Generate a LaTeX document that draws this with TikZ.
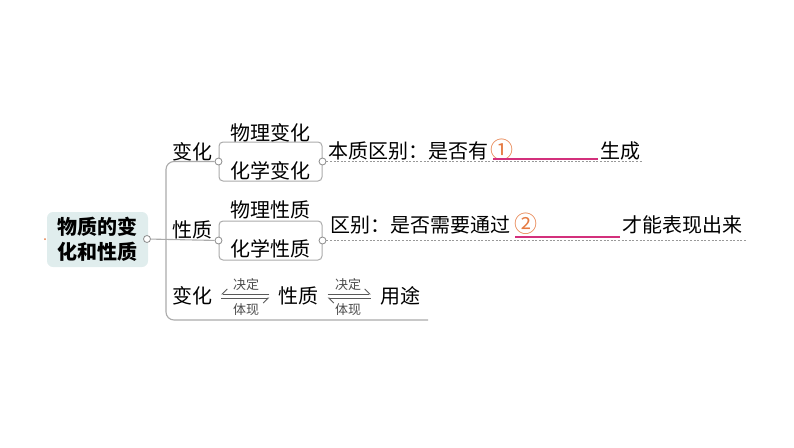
\documentclass[tikz,border=0pt]{standalone}
\usepackage{fontspec}
\setmainfont{Noto Sans CJK SC}
\usetikzlibrary{arrows.meta,positioning,calc}
\definecolor{linegray}{HTML}{ABABAB}
\definecolor{rootfill}{HTML}{E0EDED}
\definecolor{markpink}{HTML}{D3307C}
\definecolor{numorange}{HTML}{E57A42}
\tikzset{
  topic/.style={rectangle, rounded corners=6pt, fill=rootfill, minimum width=101pt, minimum height=55pt,
                align=center, font=\fontsize{20}{25}\selectfont\bfseries, inner sep=0pt},
  port/.style={circle, draw=black!45, fill=white, line width=0.8pt, minimum size=7pt, inner sep=0pt},
  frame/.style={rectangle, rounded corners=4pt, draw=linegray, line width=1pt,
                minimum width=103pt, minimum height=39pt, inner sep=0pt},
  txt/.style={font=\fontsize{20}{24}\selectfont, inner sep=0pt},
  tiny/.style={font=\fontsize{13}{15}\selectfont, text=black!70, inner sep=0pt},
  num/.style={font=\fontsize{23}{26}\selectfont, text=numorange, inner sep=0pt},
  link/.style={draw=linegray, line width=1.1pt},
  dotline/.style={draw=black!40, line width=0.9pt, dash pattern=on 2pt off 1.6pt},
  blank/.style={draw=markpink, line width=1.2pt},
  harp/.style={draw=black!65, line width=0.9pt, shorten <=9pt, shorten >=9pt},
}
\begin{document}
\begin{tikzpicture}[x=1pt, y=-1pt]
\useasboundingbox (0,0) rectangle (794,447);
% root
\node[topic] (root) at (97.5,239.5) {物质的变\\化和性质};
\fill[numorange] (45,239) circle (1pt);
\node[port] (rp) at (147,239) {};
% first branch: 变化
\node[frame] (box1) at (270.5,161.5) {};
\node[txt] (wl1) at (270,133) {物理变化};
\node[txt] (hx1) at (270,171) {化学变化};
\node[port] (p1l) at (box1.west) {};
\node[port] (p1r) at (box1.east) {};
\node[txt] (bh) at (192,152) {变化};
% second branch: 性质
\node[frame] (box2) at (270.5,240.5) {};
\node[txt] (wl2) at (270,210) {物理性质};
\node[txt] (hx2) at (270,249) {化学性质};
\node[port] (p2l) at (box2.west) {};
\node[port] (p2r) at (box2.east) {};
\node[txt] (xz) at (192,230) {性质};
% trunk
\coordinate (tb) at (166,320);
\coordinate (te) at (428,320);
\draw[link] (rp) -- (p2l);
\draw[link, rounded corners=8pt] (p1l) -| (tb) -- (te);
% notes
\coordinate (e1) at (643,161.5);
\coordinate (e2) at (747,240.5);
\draw[dotline] (p1r) -- (e1);
\draw[dotline] (p2r) -- (e2);
\node[txt, anchor=west] (q1) at (328,151) {本质区别：是否有};
\node[num] (n1) at (502,150) {①};
\coordinate (u1a) at (493,159);
\coordinate (u1b) at (598,159);
\draw[blank] (u1a) -- (u1b);
\node[txt, anchor=west] (q1e) at (600,151) {生成};
\node[txt, anchor=west] (q2) at (330,225) {区别：是否需要通过};
\node[num] (n2) at (526,224) {②};
\coordinate (u2a) at (515,237);
\coordinate (u2b) at (620,237);
\draw[blank] (u2a) -- (u2b);
\node[txt, anchor=west] (q2e) at (622,225) {才能表现出来};
% third branch
\node[txt] (c1) at (192,296) {变化};
\node[txt] (c2) at (298.5,296) {性质};
\node[txt] (c3) at (400,296) {用途};
\node[tiny] (d1) at (246,285) {决定};
\node[tiny] (t1) at (246,310) {体现};
\node[tiny] (d2) at (348,285) {决定};
\node[tiny] (t2) at (348,310) {体现};
\draw[harp, -{Straight Barb[right, length=5pt]}] ([yshift=2pt]c2.west) -- ([yshift=2pt]c1.east);
\draw[harp, -{Straight Barb[right, length=5pt]}] ([yshift=-2pt]c1.east) -- ([yshift=-2pt]c2.west);
\draw[harp, -{Straight Barb[left, length=5pt]}] ([yshift=2pt]c2.east) -- ([yshift=2pt]c3.west);
\draw[harp, -{Straight Barb[left, length=5pt]}] ([yshift=-2pt]c3.west) -- ([yshift=-2pt]c2.east);
\end{tikzpicture}
\end{document}
